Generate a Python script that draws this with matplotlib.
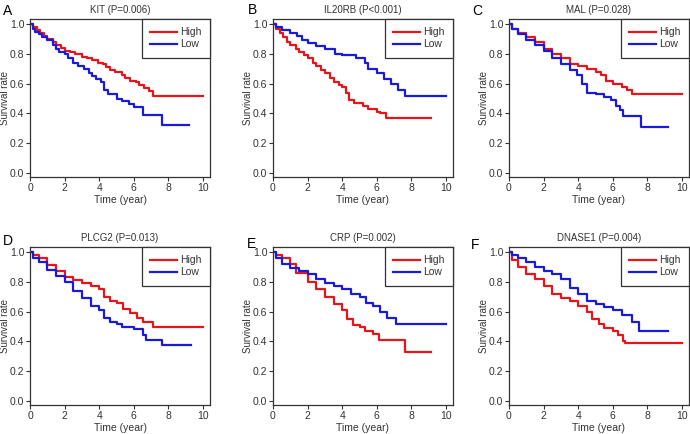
import numpy as np
import matplotlib
matplotlib.use("Agg")
import matplotlib.pyplot as plt

plt.rcParams['font.family'] = ['Liberation Sans', 'DejaVu Sans']

letters = ["A", "B", "C", "D", "E", "F"]
titles = ["KIT (P=0.006)", "IL20RB (P<0.001)", "MAL (P=0.028)",
          "PLCG2 (P=0.013)", "CRP (P=0.002)", "DNASE1 (P=0.004)"]

# survival curves (time in years, survival rate)
kit_high_t = [0, 0.2, 0.4, 0.6, 0.8, 1.0, 1.3, 1.5, 1.8, 2.0, 2.3, 2.6, 3.0, 3.3, 3.6, 3.9, 4.2, 4.4, 4.6, 4.9, 5.3, 5.5, 5.8, 6.1, 6.3, 6.6, 6.9, 7.1, 10.0]
kit_high_s = [1.0, 0.98, 0.96, 0.94, 0.92, 0.90, 0.88, 0.86, 0.84, 0.82, 0.81, 0.80, 0.78, 0.77, 0.76, 0.74, 0.73, 0.71, 0.69, 0.68, 0.66, 0.64, 0.62, 0.61, 0.59, 0.57, 0.55, 0.52, 0.52]
kit_low_t = [0, 0.15, 0.3, 0.5, 0.7, 1.0, 1.3, 1.5, 1.7, 2.0, 2.2, 2.5, 2.8, 3.1, 3.4, 3.6, 3.8, 4.1, 4.3, 4.5, 5.0, 5.3, 5.7, 6.0, 6.5, 7.6, 9.2]
kit_low_s = [1.0, 0.97, 0.95, 0.93, 0.91, 0.89, 0.86, 0.83, 0.81, 0.80, 0.77, 0.74, 0.72, 0.70, 0.67, 0.65, 0.63, 0.61, 0.56, 0.53, 0.50, 0.48, 0.46, 0.44, 0.39, 0.325, 0.325]

il20rb_high_t = [0, 0.2, 0.4, 0.6, 0.8, 1.0, 1.3, 1.5, 1.8, 2.0, 2.3, 2.5, 2.8, 3.0, 3.3, 3.5, 3.8, 4.0, 4.2, 4.4, 4.7, 5.2, 5.5, 6.0, 6.2, 6.5, 9.1]
il20rb_high_s = [1.0, 0.97, 0.94, 0.91, 0.88, 0.86, 0.83, 0.81, 0.79, 0.77, 0.74, 0.72, 0.69, 0.67, 0.64, 0.61, 0.59, 0.58, 0.54, 0.49, 0.47, 0.45, 0.43, 0.41, 0.40, 0.37, 0.37]
il20rb_low_t = [0, 0.2, 0.5, 1.0, 1.4, 1.7, 2.0, 2.5, 3.0, 3.6, 4.0, 4.8, 5.3, 5.5, 6.0, 6.4, 6.8, 7.2, 7.6, 10.0]
il20rb_low_s = [1.0, 0.98, 0.96, 0.94, 0.92, 0.89, 0.87, 0.85, 0.83, 0.80, 0.79, 0.77, 0.74, 0.70, 0.67, 0.63, 0.60, 0.56, 0.52, 0.52]

mal_high_t = [0, 0.2, 0.5, 1.0, 1.5, 2.0, 2.5, 3.0, 3.5, 4.0, 4.5, 5.0, 5.3, 5.6, 6.0, 6.5, 6.8, 7.1, 10.0]
mal_high_s = [1.0, 0.97, 0.94, 0.91, 0.88, 0.83, 0.80, 0.77, 0.73, 0.72, 0.70, 0.68, 0.66, 0.62, 0.60, 0.58, 0.56, 0.53, 0.53]
mal_low_t = [0, 0.2, 0.5, 1.0, 1.5, 2.0, 2.5, 3.0, 3.5, 3.9, 4.2, 4.5, 5.0, 5.5, 5.9, 6.2, 6.4, 6.6, 7.6, 9.2]
mal_low_s = [1.0, 0.97, 0.93, 0.89, 0.86, 0.82, 0.77, 0.73, 0.69, 0.66, 0.60, 0.54, 0.53, 0.51, 0.49, 0.45, 0.42, 0.385, 0.31, 0.31]

plcg2_high_t = [0, 0.2, 0.5, 1.0, 1.5, 2.0, 2.5, 3.0, 3.5, 4.0, 4.3, 4.6, 5.0, 5.4, 5.8, 6.2, 6.5, 7.1, 10.0]
plcg2_high_s = [1.0, 0.98, 0.96, 0.91, 0.87, 0.83, 0.81, 0.79, 0.77, 0.75, 0.70, 0.67, 0.66, 0.62, 0.59, 0.56, 0.53, 0.50, 0.50]
plcg2_low_t = [0, 0.2, 0.5, 1.0, 1.5, 2.0, 2.5, 3.0, 3.5, 4.0, 4.3, 4.6, 5.0, 5.3, 6.0, 6.5, 6.7, 7.6, 9.3]
plcg2_low_s = [1.0, 0.96, 0.93, 0.88, 0.84, 0.80, 0.74, 0.69, 0.64, 0.61, 0.56, 0.53, 0.52, 0.50, 0.48, 0.44, 0.41, 0.375, 0.375]

crp_high_t = [0, 0.2, 0.5, 1.0, 1.3, 2.0, 2.5, 3.0, 3.5, 4.0, 4.3, 4.6, 5.0, 5.3, 5.8, 6.1, 7.6, 9.1]
crp_high_s = [1.0, 0.98, 0.96, 0.92, 0.86, 0.80, 0.75, 0.70, 0.65, 0.61, 0.55, 0.51, 0.50, 0.47, 0.45, 0.41, 0.33, 0.33]
crp_low_t = [0, 0.2, 0.5, 1.0, 1.5, 2.0, 2.5, 3.0, 3.5, 4.0, 4.5, 5.0, 5.4, 5.8, 6.2, 6.6, 7.1, 10.0]
crp_low_s = [1.0, 0.96, 0.92, 0.89, 0.87, 0.85, 0.82, 0.79, 0.77, 0.75, 0.72, 0.70, 0.66, 0.64, 0.60, 0.56, 0.52, 0.52]

dnase1_high_t = [0, 0.2, 0.5, 1.0, 1.5, 2.0, 2.5, 3.0, 3.5, 4.0, 4.5, 4.8, 5.2, 5.5, 6.0, 6.3, 6.6, 6.7, 10.0]
dnase1_high_s = [1.0, 0.95, 0.90, 0.85, 0.82, 0.77, 0.72, 0.69, 0.67, 0.64, 0.60, 0.55, 0.52, 0.49, 0.47, 0.44, 0.40, 0.39, 0.39]
dnase1_low_t = [0, 0.2, 0.5, 1.0, 1.5, 2.0, 2.5, 3.0, 3.5, 4.0, 4.5, 5.0, 5.5, 6.0, 6.5, 7.1, 7.5, 9.2]
dnase1_low_s = [1.0, 0.98, 0.96, 0.93, 0.90, 0.87, 0.85, 0.82, 0.76, 0.72, 0.67, 0.65, 0.63, 0.61, 0.58, 0.53, 0.47, 0.47]

high_t = [kit_high_t, il20rb_high_t, mal_high_t, plcg2_high_t, crp_high_t, dnase1_high_t]
high_s = [kit_high_s, il20rb_high_s, mal_high_s, plcg2_high_s, crp_high_s, dnase1_high_s]
low_t = [kit_low_t, il20rb_low_t, mal_low_t, plcg2_low_t, crp_low_t, dnase1_low_t]
low_s = [kit_low_s, il20rb_low_s, mal_low_s, plcg2_low_s, crp_low_s, dnase1_low_s]

fig = plt.figure(figsize=(6.9, 4.34), dpi=100)

W, H = 690, 434
lefts = [30, 273, 509]
tops = [19, 247]
w = 180 / W
h = 158 / H
# panel letter spots (pixels, left x and bottom y)
letter_xy = [(3, 15), (248, 14), (472, 15), (3, 245), (247, 248), (471, 249)]

grey = "#333333"
for i in range(6):
    r, c = divmod(i, 3)
    ax = fig.add_axes([lefts[c] / W, 1 - (tops[r] + 158) / H, w, h])
    ax.step(high_t[i], high_s[i], where='post', color='#e8141b', lw=1.6, label='High')
    ax.step(low_t[i], low_s[i], where='post', color='#1a1adb', lw=1.6, label='Low')
    ax.set_xlim(0, 10.4)
    ax.set_ylim(-0.027, 1.034)
    ax.set_xticks([0, 2, 4, 6, 8, 10])
    ax.set_yticks([0, 0.2, 0.4, 0.6, 0.8, 1.0])
    ax.set_yticklabels(["0.0", "0.2", "0.4", "0.6", "0.8", "1.0"])
    ax.tick_params(labelsize=7.5, length=3, width=0.8, colors=grey, pad=1)
    for sp in ax.spines.values():
        sp.set_color(grey)
        sp.set_linewidth(0.9)
    ax.set_xlabel("Time (year)", fontsize=7.5, color=grey, labelpad=1.5)
    ax.set_ylabel("Survival rate", fontsize=7, color=grey, labelpad=0)
    ax.set_title(titles[i], fontsize=7, color=grey, pad=4)
    lx, ly = letter_xy[i]
    fig.text(lx / W, 1 - ly / H, letters[i], fontsize=10, ha='left', va='baseline',
             color='black')
    leg = ax.legend(loc='upper right', borderaxespad=0, fancybox=False,
                    fontsize=7.5, handlelength=2.6, handletextpad=0.3,
                    borderpad=0.8, labelspacing=0.2, framealpha=1)
    leg.get_frame().set_edgecolor(grey)
    leg.get_frame().set_linewidth(0.9)
    for t in leg.get_texts():
        t.set_color(grey)

fig.savefig("out.png", dpi=100)
